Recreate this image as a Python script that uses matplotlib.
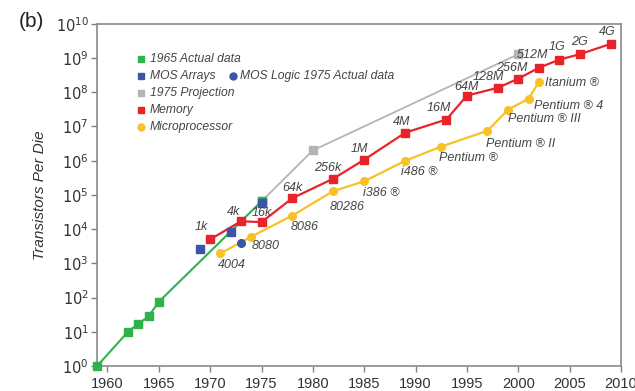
import matplotlib.pyplot as plt
import numpy as np

plt.rcParams['font.family'] = ['Liberation Sans', 'DejaVu Sans']

# 1965 actual data (green)
green_years = [1959, 1962, 1963, 1964, 1965, 1975]
green_vals = [1, 10, 17, 28, 75, 6.5e4]

# MOS arrays (blue squares) and MOS logic 1975 actual data (blue circle)
mos_arr_years = [1969, 1972, 1975]
mos_arr_vals = [2.6e3, 8e3, 6e4]
mos_logic_years = [1973]
mos_logic_vals = [3.9e3]

# 1975 projection (gray)
proj_years = [1975, 1980, 2000]
proj_vals = [6.5e4, 2e6, 1.3e9]

# Memory (red)
mem_years = [1970, 1973, 1975, 1978, 1982, 1985, 1989, 1993, 1995, 1998, 2000, 2002, 2004, 2006, 2009]
mem_vals = [5e3, 1.7e4, 1.6e4, 8e4, 3e5, 1.07e6, 6.6e6, 1.6e7, 8e7, 1.35e8, 2.5e8, 5.2e8, 9e8, 1.3e9, 2.6e9]
mem_labels = ['1k', '4k', '16k', '64k', '256k', '1M', '4M', '16M', '64M', '128M', '256M', '512M', '1G', '2G', '4G']
mem_label_pos = [(1969.1, 4.05), (1972.3, 4.49), (1975.0, 4.46), (1978.0, 5.2), (1981.4, 5.8),
                 (1984.5, 6.35), (1988.6, 7.14), (1992.3, 7.55), (1995.0, 8.16), (1997.1, 8.45),
                 (1999.4, 8.72), (2001.4, 9.1), (2003.8, 9.33), (2006.0, 9.48), (2008.7, 9.77)]

# Microprocessor (yellow)
cpu_years = [1971, 1974, 1978, 1982, 1985, 1989, 1992.5, 1997, 1999, 2001, 2002]
cpu_vals = [1.95e3, 6e3, 2.5e4, 1.3e5, 2.5e5, 1e6, 2.6e6, 7.5e6, 3.1e7, 6.5e7, 2e8]
cpu_labels = ['4004', '8080', '8086', '80286', 'i386 \u00ae', 'i486 \u00ae', 'Pentium \u00ae',
              'Pentium \u00ae II', 'Pentium \u00ae III', 'Pentium \u00ae 4', 'Itanium \u00ae']
cpu_label_pos = [(1972.1, 2.94), (1975.4, 3.5), (1979.2, 4.05), (1983.3, 4.66), (1986.7, 5.07),
                 (1990.4, 5.66), (1995.1, 6.07), (2000.2, 6.5), (2002.5, 7.23), (2004.9, 7.6),
                 (2005.2, 8.28)]

GREEN = '#2eb34b'
BLUE = '#3b56a6'
GRAY = '#b4b4b4'
RED = '#e8232a'
YELLOW = '#f7c225'
TXT = '#444444'

fig = plt.figure(figsize=(6.35, 3.91), dpi=100)
ax = fig.add_axes([0.153, 0.064, 0.825, 0.875])

ax.plot(proj_years, proj_vals, color=GRAY, lw=1.3, marker='s', ms=5.5, zorder=2)
ax.plot(green_years, green_vals, color=GREEN, lw=1.5, marker='s', ms=6, zorder=3, clip_on=False)
ax.plot(mem_years, mem_vals, color=RED, lw=1.6, marker='s', ms=6, zorder=4)
ax.plot(cpu_years, cpu_vals, color=YELLOW, lw=1.6, marker='o', ms=5.5, zorder=4)
ax.plot(mos_arr_years, mos_arr_vals, ls='none', color=BLUE, marker='s', ms=6, zorder=5)
ax.plot(mos_logic_years, mos_logic_vals, ls='none', color=BLUE, marker='o', ms=5.5, zorder=5)

for lab, (x, d) in zip(mem_labels, mem_label_pos):
    ax.text(x, 10 ** d, lab, fontsize=9, style='italic', color=TXT, ha='center', va='center', zorder=6)
for lab, (x, d) in zip(cpu_labels, cpu_label_pos):
    ax.text(x, 10 ** d, lab, fontsize=9, style='italic', color=TXT, ha='center', va='center', zorder=6)

ax.set_yscale('log')
ax.set_xlim(1959, 2010)
ax.set_ylim(1, 1e10)
ax.set_xticks(range(1960, 2011, 5))
ax.set_yticks([10.0 ** k for k in range(11)])
ax.set_yticklabels([r'$10^{%d}$' % k for k in range(11)])
ax.minorticks_off()
ax.tick_params(direction='out', length=4, width=1, color='#808080', labelsize=10.5, labelcolor='#333333', pad=2)
ax.tick_params(axis='x', pad=4)
for s in ax.spines.values():
    s.set_color('#8a8a8a')
    s.set_linewidth(1.2)

ax.set_ylabel('Transistors Per Die', style='italic', fontsize=11, color='#333333', labelpad=6)
fig.text(0.03, 0.945, '(b)', fontsize=15, color='#222222', va='center', ha='left')

# legend
leg = [('s', GREEN, '1965 Actual data'), ('s', BLUE, 'MOS Arrays'), ('s', GRAY, '1975 Projection'),
       ('s', RED, 'Memory'), ('o', YELLOW, 'Microprocessor')]
lx, ly0, dy = 0.083, 0.897, 0.0495
for i, (m, c, t) in enumerate(leg):
    y = ly0 - i * dy
    ax.plot([lx], [y], marker=m, color=c, ms=5, ls='none', transform=ax.transAxes, clip_on=False)
    ax.text(lx + 0.018, y, t, transform=ax.transAxes, fontsize=8.7, style='italic', color=TXT, va='center')
ax.plot([0.259], [ly0 - dy], marker='o', color=BLUE, ms=5, ls='none', transform=ax.transAxes)
ax.text(0.273, ly0 - dy, 'MOS Logic 1975 Actual data', transform=ax.transAxes, fontsize=8.7,
        style='italic', color=TXT, va='center')

fig.savefig('out.png', dpi=100)
